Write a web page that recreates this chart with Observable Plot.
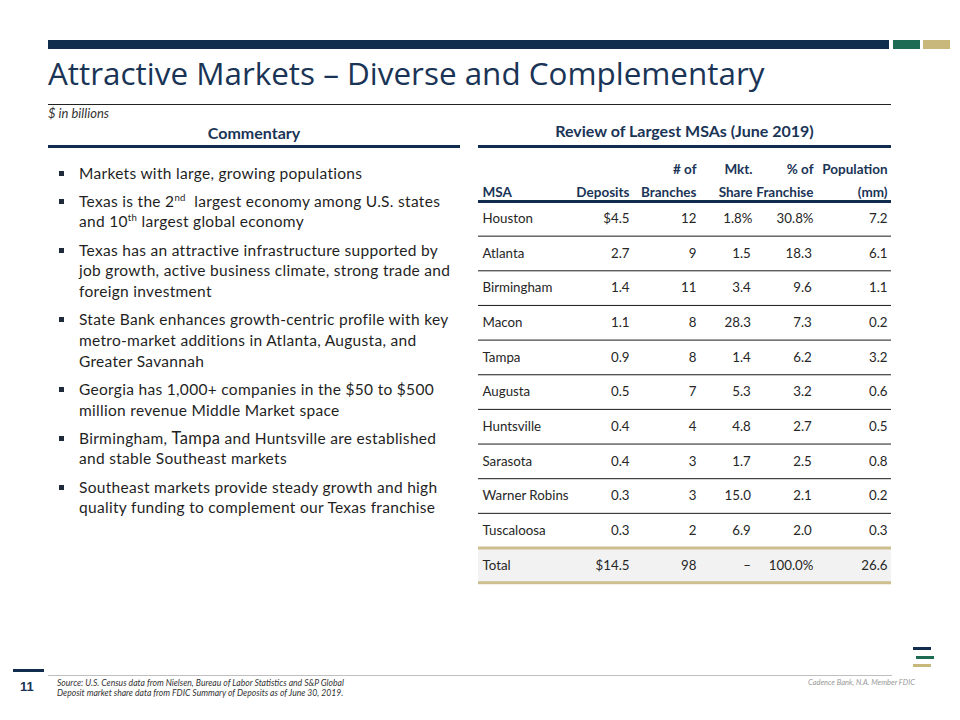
<!DOCTYPE html>
<html><head><meta charset="utf-8">
<script src="https://cdn.jsdelivr.net/npm/d3@7"></script>
<script src="https://cdn.jsdelivr.net/npm/@observablehq/plot@0.6"></script>
<style>
body{margin:0;background:#fff;}
#slide{position:relative;width:960px;height:720px;overflow:hidden;font-family:Lato,"Open Sans",sans-serif;color:#262626;}
.abs{position:absolute;}
.navy{background:#112D4E;}
#title{position:absolute;left:48px;font-family:"Open Sans",sans-serif;color:#1A3456;line-height:1;white-space:nowrap;}
.sect{position:absolute;text-align:center;font-weight:700;font-size:16px;line-height:18px;color:#1A3456;}
#bullets{position:absolute;left:48px;top:162.5px;width:430px;white-space:nowrap;}
#bullets p{position:relative;margin:0 0 7.5px 0;padding-left:31px;font-size:15.5px;letter-spacing:0.3px;line-height:20.7px;color:#1f1f1f;}
#bullets p::before{content:"";position:absolute;left:11px;top:8px;width:5px;height:5px;background:#1f2a3a;}
#bullets sup{font-size:0.62em;vertical-align:super;line-height:0;}
.tampa{font-size:16.5px;}
#table{position:absolute;left:470px;top:150px;}
#table svg{overflow:visible;background:transparent;}
.foot{position:absolute;font-style:italic;line-height:10px;white-space:nowrap;}
</style></head>
<body><div id="slide">
<div class="abs navy" style="left:48px;top:40px;width:841px;height:9px"></div>
<div class="abs" style="left:893px;top:40px;width:27px;height:9px;background:#1E6B54"></div>
<div class="abs" style="left:923px;top:40px;width:27px;height:9px;background:#C9B87C"></div>
<div id="title">Attractive Markets – Diverse and Complementary</div>
<div class="abs" style="left:48px;top:103.5px;width:843px;height:1px;background:#222"></div>
<div class="abs" style="left:48px;top:105px;font-size:13px;line-height:16px;font-style:italic;color:#333">$ in billions</div>
<div class="sect" style="left:48px;top:124px;width:412px">Commentary</div>
<div class="abs navy" style="left:48px;top:145px;width:412px;height:3px"></div>
<div class="sect" style="left:478px;top:122px;width:413px">Review of Largest MSAs (June 2019)</div>
<div class="abs navy" style="left:478px;top:145px;width:413px;height:3px"></div>
<div id="bullets"></div>
<div id="table"></div>
<div class="abs navy" style="left:13px;top:669px;width:31px;height:3px"></div>
<div class="abs" style="left:20px;top:679px;font-family:'Liberation Sans',Arial,sans-serif;font-weight:700;font-size:13px;line-height:16px;color:#1A3456">11</div>
<div class="abs" style="left:48px;top:675px;width:844px;height:1px;background:#BFBFBF"></div>
<div class="foot" style="left:57px;top:678px;font-size:8.6px;color:#333">Source: U.S. Census data from Nielsen, Bureau of Labor Statistics and S&amp;P Global<br>Deposit market share data from FDIC Summary of Deposits as of June 30, 2019.</div>
<div class="foot" style="left:808px;top:678px;font-size:7.5px;color:#999">Cadence Bank, N.A. Member FDIC</div>
<div class="abs" style="left:913px;top:647px;width:18px;height:3px;background:#112D4E"></div>
<div class="abs" style="left:916px;top:655.5px;width:18px;height:3px;background:#1E6B54"></div>
<div class="abs" style="left:913px;top:664px;width:18px;height:3px;background:#C9B87C"></div>
</div>
<script>
// ---- data ----
const msa = ["Houston","Atlanta","Birmingham","Macon","Tampa","Augusta","Huntsville","Sarasota","Warner Robins","Tuscaloosa"];
const deposits = [4.5,2.7,1.4,1.1,0.9,0.5,0.4,0.4,0.3,0.3];
const branches = [12,9,11,8,8,7,4,3,3,2];
const mktShare = [1.8,1.5,3.4,28.3,1.4,5.3,4.8,1.7,15.0,6.9];
const franchise = [30.8,18.3,9.6,7.3,6.2,3.2,2.7,2.5,2.1,2.0];
const population = [7.2,6.1,1.1,0.2,3.2,0.6,0.5,0.8,0.2,0.3];
const totalRow = ["Total", 14.5, 98, null, 100.0, 26.6];
const headerTop = ["", "", "# of", "Mkt.", "% of", "Population"];
const headerBottom = ["MSA", "Deposits", "Branches", "Share", "Franchise", "(mm)"];
const commentary = [
  "Markets with large, growing populations",
  "Texas is the 2<sup>nd</sup>&nbsp; largest economy among U.S. states<br>and 10<sup>th</sup> largest global economy",
  "Texas has an attractive infrastructure supported by<br>job growth, active business climate, strong trade and<br>foreign investment",
  "State Bank enhances growth-centric profile with key<br>metro-market additions in Atlanta, Augusta, and<br>Greater Savannah",
  "Georgia has 1,000+ companies in the $50 to $500<br>million revenue Middle Market space",
  "Birmingham, <span class=\"tampa\">Tampa</span> and Huntsville are established<br>and stable Southeast markets",
  "Southeast markets provide steady growth and high<br>quality funding to complement our Texas franchise"
];

// ---- title sizing ----
const title = document.getElementById("title");
title.style.fontSize = "30px";
const w = title.getBoundingClientRect().width;
const fs = 30 * 717 / w;
title.style.fontSize = fs + "px";
title.style.top = (85 - 0.888 * fs) + "px";

// ---- commentary ----
d3.select("#bullets").selectAll("p").data(commentary).join("p").html(d => d);

// ---- table ----
const f1 = d3.format(".1f");
const thin = "\u2009";
const rows = msa.map((m, i) => [
  m,
  i === 0 ? "$" + f1(deposits[i]) : f1(deposits[i]),
  String(branches[i]),
  i === 0 ? f1(mktShare[i]) + "%" : f1(mktShare[i]) + thin,
  i === 0 ? f1(franchise[i]) + "%" : f1(franchise[i]) + thin,
  f1(population[i])
]);
rows.push([
  totalRow[0],
  "$" + f1(totalRow[1]),
  String(totalRow[2]),
  totalRow[3] == null ? "–" + thin : f1(totalRow[3]),
  f1(totalRow[4]) + "%",
  f1(totalRow[5])
]);

// column layout (right edge for numeric columns, left edge for MSA), in px from table left
const colEdge = [4, 151, 218, 274, 335, 409];
const tableWidth = 413;
const rowCount = rows.length;

const cells = rows.flatMap((r, i) => r.map((label, j) => ({row: i + 0.5, col: j, x: colEdge[j], label})));
const header = headerTop.map((t, j) => ({x: colEdge[j], top: t, bottom: headerBottom[j], col: j}));

const rowH = 34.65, mTop = 51;
const hdr = {frameAnchor: "top", lineAnchor: "middle", fontSize: 13.5, fontWeight: 700, fill: "#1A3456"};
const chart = Plot.plot({
  width: 430,
  height: Math.round(mTop + rowCount * rowH + 5),
  marginLeft: 8, marginRight: 9, marginTop: mTop, marginBottom: 5,
  style: {fontFamily: "Lato, 'Open Sans', sans-serif", background: "transparent"},
  x: {domain: [0, tableWidth], axis: null},
  y: {domain: [0, rowCount], range: [mTop, mTop + rowCount * rowH], axis: null},
  marks: [
    Plot.rect([rowCount - 1], {y1: d => d, y2: d => d + 1, fill: "#F2F2F2"}),
    Plot.ruleY(d3.range(1, rowCount - 1), {stroke: "#1a1a1a", strokeWidth: 1}),
    Plot.ruleY([rowCount - 1, rowCount], {stroke: "#CDBE8E", strokeWidth: 3}),
    Plot.ruleY([0], {stroke: "#112D4E", strokeWidth: 3}),
    Plot.text(cells.filter(d => d.col === 0), {x: "x", y: "row", text: "label", textAnchor: "start", fontSize: 13.3, fill: "#262626"}),
    Plot.text(cells.filter(d => d.col > 0), {x: "x", y: "row", text: "label", textAnchor: "end", fontSize: 13.3, fill: "#262626"}),
    Plot.text(header.filter(d => d.col > 0), {...hdr, x: "x", text: "top", dy: -32, textAnchor: "end"}),
    Plot.text(header.filter(d => d.col > 0), {...hdr, x: "x", text: "bottom", dy: -8.5, textAnchor: "end"}),
    Plot.text(header.filter(d => d.col === 0), {...hdr, x: "x", text: "bottom", dy: -8.5, textAnchor: "start"})
  ]
});
document.getElementById("table").appendChild(chart);
</script>
</body></html>
